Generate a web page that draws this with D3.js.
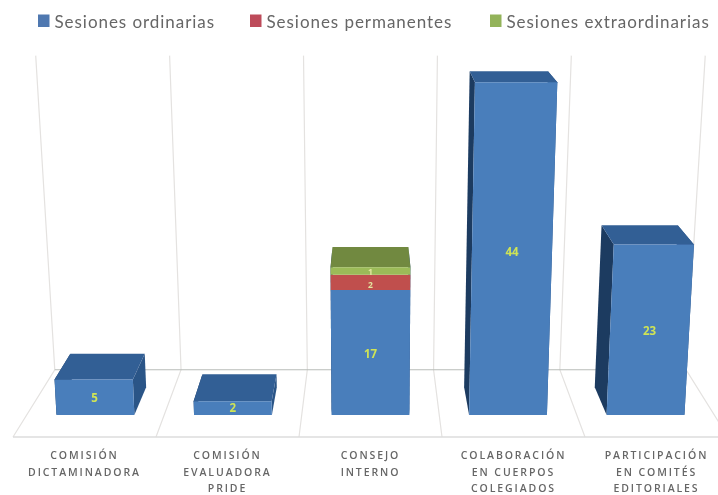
<!DOCTYPE html>
<html>
<head>
<meta charset="utf-8">
<script src="https://cdn.jsdelivr.net/npm/d3@7"></script>
<style>
 html, body { margin:0; padding:0; background:#fff; }
 svg { display:block; }
 text { font-family:"Open Sans", sans-serif; }
</style>
</head>
<body>
<script>
var categories = ['COMISIÓN DICTAMINADORA', 'COMISIÓN EVALUADORA PRIDE', 'CONSEJO INTERNO', 'COLABORACIÓN EN CUERPOS COLEGIADOS', 'PARTICIPACIÓN EN COMITÉS EDITORIALES']
var catLines = [['COMISIÓN','DICTAMINADORA'], ['COMISIÓN','EVALUADORA','PRIDE'], ['CONSEJO','INTERNO'], ['COLABORACIÓN','EN CUERPOS','COLEGIADOS'], ['PARTICIPACIÓN','EN COMITÉS','EDITORIALES']]
var seriesNames = ['Sesiones ordinarias', 'Sesiones permanentes', 'Sesiones extraordinarias']
var ordinarias = [5, 2, 17, 44, 23]
var permanentes = [0, 0, 2, 0, 0]
var extraordinarias = [0, 0, 1, 0, 0]
var frontColors = ['#4a7ebb', '#c0504d', '#9bbb59']
var topColors = ['#335f95', '#8f3b39', '#71893f']
var legendColors = ['#4f78b0', '#bd4b5a', '#93b35a']

var width = 718, height = 495
var root = d3.select('body').append('svg').attr('width', width).attr('height', height)
// the reference is a soft, resampled image
root.append('defs').append('filter').attr('id', 'soft')
  .attr('filterUnits', 'userSpaceOnUse')
  .attr('x', 0).attr('y', 0).attr('width', width).attr('height', height)
  .append('feGaussianBlur').attr('stdDeviation', 0.5)
var svg = root.append('g').attr('filter', 'url(#soft)')

// the chart was a 3D one, so everything goes through a small perspective projection
var cx = 370, vy = -138, floorY = 575, tilt = 0.00017
var depth = {floorFront: 1, barFront: 0.9617, barBack: 0.9136, floorBack: 0.883}
var wallTop = 45.2

var x = d3.scaleBand().domain(categories).range([-357, 358]).paddingInner(0.434).paddingOuter(0.217)
var gridX = d3.scaleLinear().domain([0, categories.length]).range([-357, 358])
var y = d3.scalePow().exponent(1.03).domain([0, 44]).range([0, 346])

function project(X, v, s) {
  var h = y(v)
  return [cx + X * s * (1 + tilt * h), vy + (floorY - h) * s]
}
var line = d3.line()
function poly(pts) { return line(pts) + 'Z' }

// walls and floor
var grid = svg.append('g').attr('fill', 'none')
d3.range(categories.length + 1).forEach(function(i) {
  var X = gridX(i)
  grid.append('path').attr('stroke', '#e4e2e0').attr('stroke-width', 1.2)
    .attr('d', line([project(X, wallTop, depth.floorBack), project(X, 0, depth.floorBack), project(X, 0, depth.floorFront)]))
})
grid.append('path').attr('stroke', '#b9bcb8').attr('stroke-width', 1.2)
  .attr('d', line([project(gridX(0), 0, depth.floorBack), project(gridX(categories.length), 0, depth.floorBack)]))
grid.append('path').attr('stroke', '#dcdcdc').attr('stroke-width', 1.6)
  .attr('d', line([project(gridX(0), 0, depth.floorFront), project(gridX(categories.length), 0, depth.floorFront)]))

// bars
var stack = d3.stack().keys([0, 1, 2]).value(function(d, k) { return d[k] })
var rows = categories.map(function(c, i) { return [ordinarias[i], permanentes[i], extraordinarias[i]] })
var layers = stack(rows)

var bars = svg.append('g')
categories.forEach(function(c, i) {
  var x0 = x(c), x1 = x(c) + x.bandwidth()
  var total = d3.sum(rows[i])
  var g = bars.append('g')
  var sides = [{X: x0, fill: '#1b3a60'}, {X: x1, fill: '#2c5587'}]
  sides.forEach(function(sd) {
    g.append('path').attr('fill', sd.fill).attr('d', poly([
      project(sd.X, 0, depth.barFront), project(sd.X, 0, depth.barBack),
      project(sd.X, total, depth.barBack), project(sd.X, total, depth.barFront)]))
  })
  var topIdx = d3.max(layers, function(l) { return l[i][1] > l[i][0] ? l.index : -1 })
  g.append('path').attr('fill', topColors[topIdx]).attr('d', poly([
    project(x0, total, depth.barFront), project(x1, total, depth.barFront),
    project(x1, total, depth.barBack), project(x0, total, depth.barBack)]))
  layers.forEach(function(l) {
    var a = l[i][0], b = l[i][1]
    if (b <= a) { return }
    g.append('path').attr('fill', frontColors[l.index]).attr('d', poly([
      project(x0, a, depth.barFront), project(x1, a, depth.barFront),
      project(x1, b, depth.barFront), project(x0, b, depth.barFront)]))
  })
  layers.forEach(function(l) {
    var a = l[i][0], b = l[i][1]
    if (b <= a) { return }
    var p = project((x0 + x1) / 2, (a + b) / 2, depth.barFront)
    // the thin slices of the stacked bar get a smaller label, pushed apart
    var thin = l.index > 0
    g.append('text').attr('x', p[0]).attr('y', p[1] + (thin ? (l.index == 1 ? 3 : 1) : 0)).attr('dy', '0.35em')
      .attr('text-anchor', 'middle').attr('font-size', thin ? 8.5 : 11.5).attr('font-weight', 700)
      .attr('fill', thin ? '#e3e6a0' : '#cfe455').text(b - a)
  })
})

// category labels
var labels = svg.append('g').attr('fill', '#666').attr('font-size', 10.5).attr('font-weight', 600)
  .attr('text-anchor', 'middle').style('letter-spacing', '1.9px')
categories.forEach(function(c, i) {
  var t = labels.append('text')
  catLines[i].forEach(function(s, j) {
    t.append('tspan').attr('x', cx + x(c) + x.bandwidth() / 2).attr('y', 459 + j * 16.5).text(s)
  })
})

// legend
var legendX = d3.scaleOrdinal().domain(seriesNames).range([38, 250, 490])
var legend = svg.append('g')
seriesNames.forEach(function(n, i) {
  legend.append('rect').attr('x', legendX(n)).attr('y', 14.5).attr('width', 11.5).attr('height', 12.5).attr('fill', legendColors[i])
  legend.append('text').attr('x', legendX(n) + 16.5).attr('y', 27.5).attr('font-size', 17)
    .style('font-family', 'Lato, sans-serif')
    .attr('fill', '#666').style('letter-spacing', '0.95px').text(n)
})
</script>
</body>
</html>
